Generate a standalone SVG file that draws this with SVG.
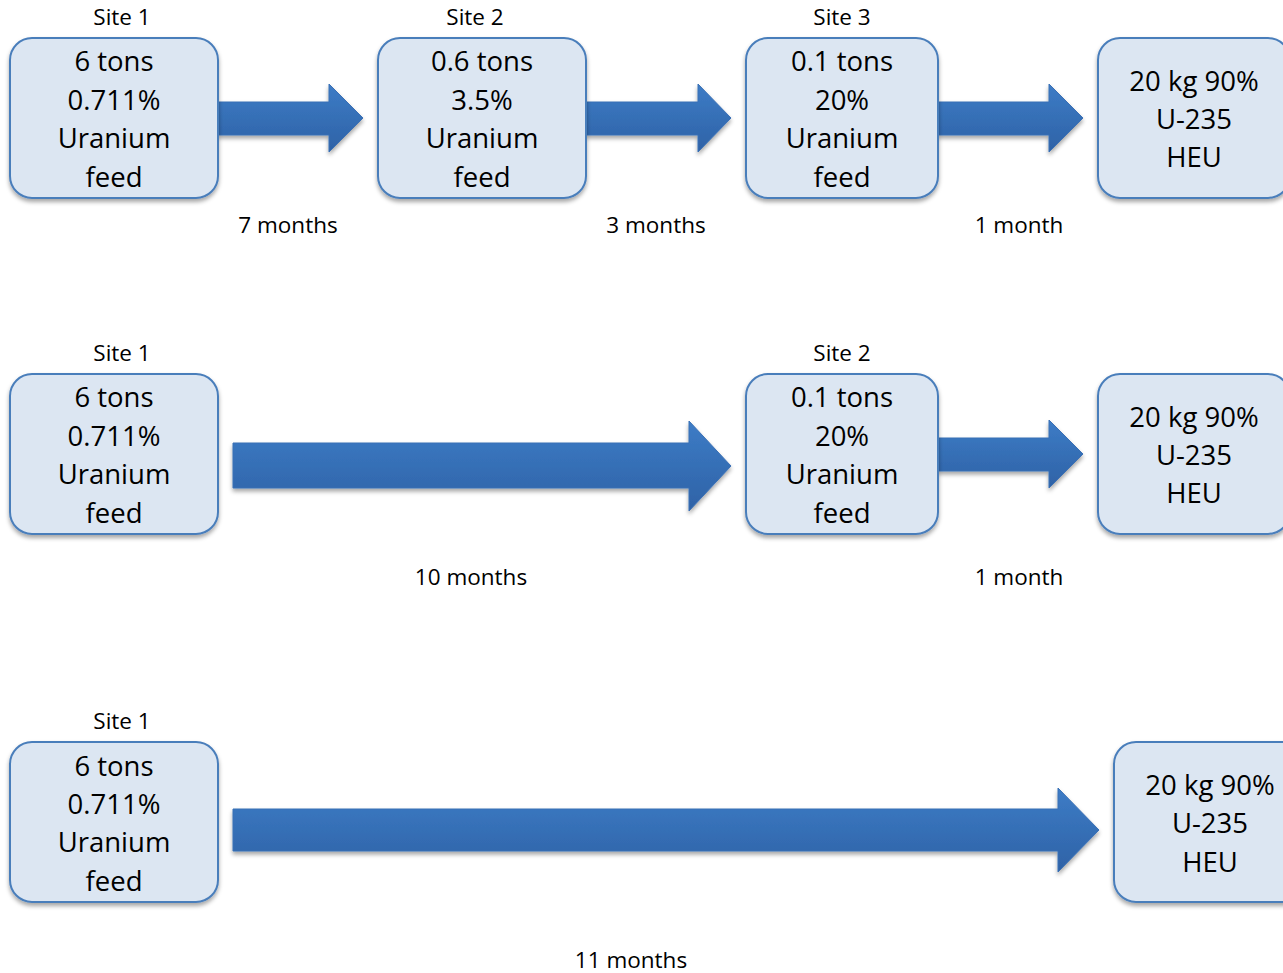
<svg xmlns="http://www.w3.org/2000/svg" width="1283" height="973" viewBox="0 0 1283 973">
<defs>
<linearGradient id="ag" x1="0" y1="0" x2="0" y2="1">
<stop offset="0" stop-color="#3d7cc6"/>
<stop offset="1" stop-color="#2e62a6"/>
</linearGradient>
<filter id="sh" x="-10%" y="-10%" width="120%" height="130%">
<feDropShadow dx="0" dy="3" stdDeviation="2" flood-color="#000" flood-opacity="0.35"/>
</filter>
</defs>
<style>
.box{fill:#dce6f2;stroke:#4a7ebb;stroke-width:2;filter:url(#sh)}
.arr{fill:url(#ag);stroke:#3a70b5;stroke-width:1;filter:url(#sh)}
.bt{font-family:"Open Sans","Liberation Sans",sans-serif;font-size:27.5px;fill:#000;text-anchor:middle}
.lt{font-family:"Open Sans","Liberation Sans",sans-serif;font-size:22.5px;fill:#000;text-anchor:middle}
</style>
<rect width="1283" height="973" fill="#fff"/>

<g id="connectors">
<polygon class="arr" points="218,102 329,102 329,84 363,118 329,152 329,135 218,135"/>
<polygon class="arr" points="586,102 698,102 698,84 731,118 698,152 698,135 586,135"/>
<polygon class="arr" points="938,102 1049,102 1049,84 1083,118 1049,152 1049,135 938,135"/>
<polygon class="arr" points="233,443 689,443 689,421 731,466 689,511 689,488 233,488"/>
<polygon class="arr" points="938,438 1049,438 1049,420 1083,454 1049,488 1049,471 938,471"/>
<polygon class="arr" points="233,809 1058,809 1058,788 1099,830 1058,872 1058,851 233,851"/>
</g>

<g id="labels">
<text class="lt" x="122" y="25">Site 1</text>
<text class="lt" x="475" y="25">Site 2</text>
<text class="lt" x="842" y="25">Site 3</text>
<text class="lt" x="288" y="233">7 months</text>
<text class="lt" x="656" y="233">3 months</text>
<text class="lt" x="1019" y="233">1 month</text>
<text class="lt" x="122" y="361">Site 1</text>
<text class="lt" x="842" y="361">Site 2</text>
<text class="lt" x="471" y="585">10 months</text>
<text class="lt" x="1019" y="585">1 month</text>
<text class="lt" x="122" y="729">Site 1</text>
<text class="lt" x="631" y="968">11 months</text>
</g>

<g id="r1-site1">
<rect class="box" x="10" y="38" width="208" height="160" rx="22"/>
<text class="bt" x="114" y="71">6 tons</text>
<text class="bt" x="114" y="110">0.711%</text>
<text class="bt" x="114" y="148">Uranium</text>
<text class="bt" x="114" y="187">feed</text>
</g>
<g id="r1-site2">
<rect class="box" x="378" y="38" width="208" height="160" rx="22"/>
<text class="bt" x="482" y="71">0.6 tons</text>
<text class="bt" x="482" y="110">3.5%</text>
<text class="bt" x="482" y="148">Uranium</text>
<text class="bt" x="482" y="187">feed</text>
</g>
<g id="r1-site3">
<rect class="box" x="746" y="38" width="192" height="160" rx="22"/>
<text class="bt" x="842" y="71">0.1 tons</text>
<text class="bt" x="842" y="110">20%</text>
<text class="bt" x="842" y="148">Uranium</text>
<text class="bt" x="842" y="187">feed</text>
</g>
<g id="r1-heu">
<rect class="box" x="1098" y="38" width="192" height="160" rx="22"/>
<text class="bt" x="1194" y="91">20 kg 90%</text>
<text class="bt" x="1194" y="129">U-235</text>
<text class="bt" x="1194" y="167">HEU</text>
</g>

<g id="r2-site1">
<rect class="box" x="10" y="374" width="208" height="160" rx="22"/>
<text class="bt" x="114" y="407">6 tons</text>
<text class="bt" x="114" y="446">0.711%</text>
<text class="bt" x="114" y="484">Uranium</text>
<text class="bt" x="114" y="523">feed</text>
</g>
<g id="r2-site2">
<rect class="box" x="746" y="374" width="192" height="160" rx="22"/>
<text class="bt" x="842" y="407">0.1 tons</text>
<text class="bt" x="842" y="446">20%</text>
<text class="bt" x="842" y="484">Uranium</text>
<text class="bt" x="842" y="523">feed</text>
</g>
<g id="r2-heu">
<rect class="box" x="1098" y="374" width="192" height="160" rx="22"/>
<text class="bt" x="1194" y="427">20 kg 90%</text>
<text class="bt" x="1194" y="465">U-235</text>
<text class="bt" x="1194" y="503">HEU</text>
</g>

<g id="r3-site1">
<rect class="box" x="10" y="742" width="208" height="160" rx="22"/>
<text class="bt" x="114" y="776">6 tons</text>
<text class="bt" x="114" y="814">0.711%</text>
<text class="bt" x="114" y="852">Uranium</text>
<text class="bt" x="114" y="891">feed</text>
</g>
<g id="r3-heu">
<rect class="box" x="1114" y="742" width="192" height="160" rx="22"/>
<text class="bt" x="1210" y="795">20 kg 90%</text>
<text class="bt" x="1210" y="833">U-235</text>
<text class="bt" x="1210" y="872">HEU</text>
</g>
</svg>
